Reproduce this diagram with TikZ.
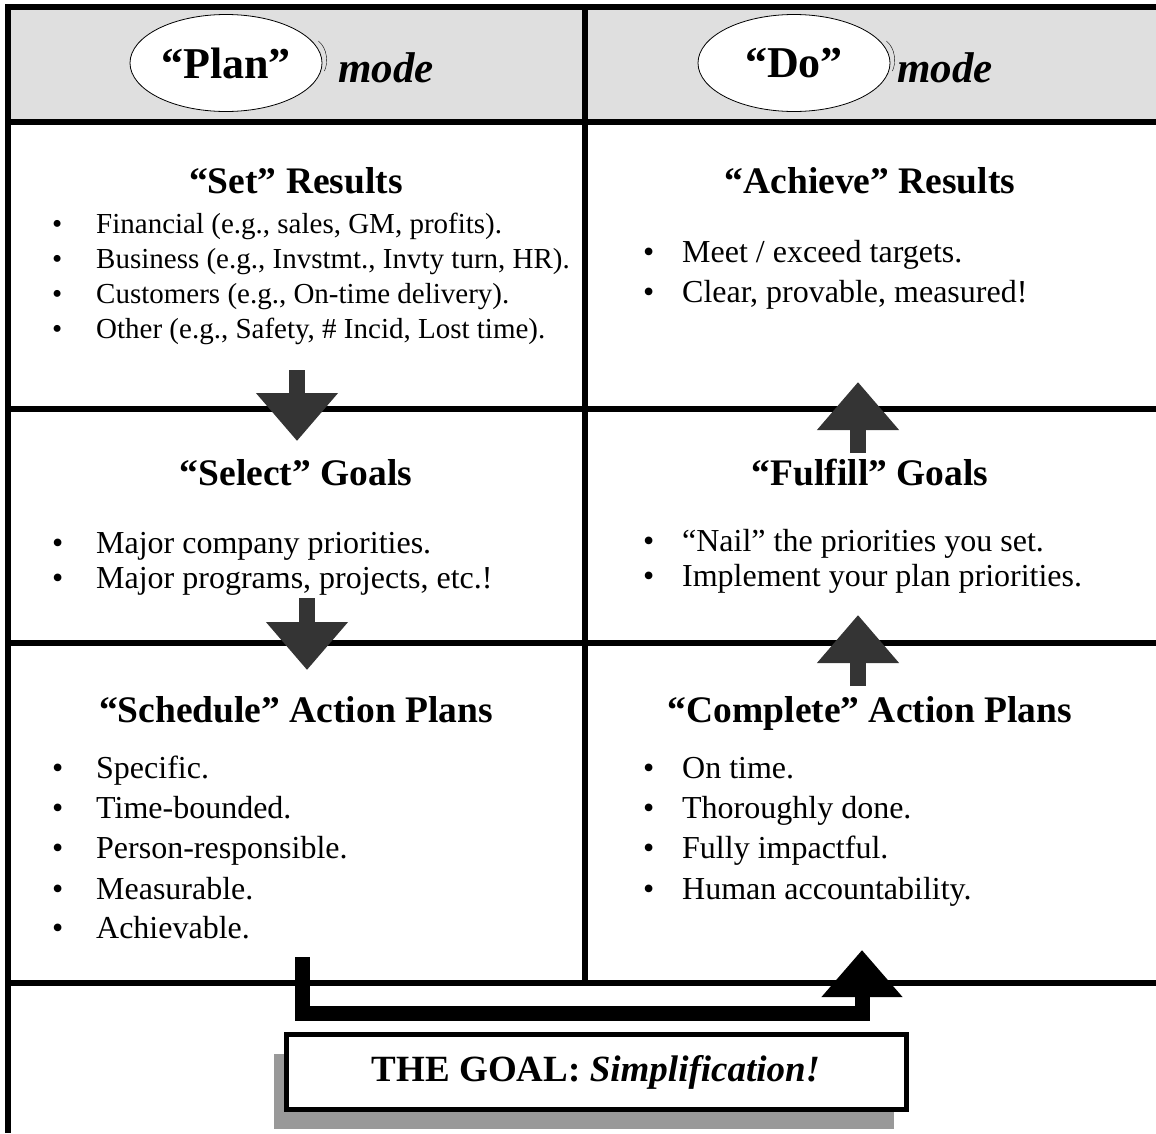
\documentclass[tikz,border=0pt]{standalone}
\usepackage{fontspec}
\setmainfont{Liberation Serif}
\usetikzlibrary{shapes.geometric,arrows.meta,shadows}

\begin{document}
\begin{tikzpicture}[x=1pt,y=-1pt,
	frame/.style={line width=6pt, miter limit=2},
	title/.style={anchor=base, inner sep=0pt, font=\bfseries\fontsize{37.5}{42}\selectfont},
	item/.style={anchor=base west, inner sep=0pt, font=\fontsize{32}{36}\selectfont},
	smallitem/.style={item, font=\fontsize{29}{33}\selectfont},
	modeoval/.style={ellipse, draw, thick, fill=white, minimum width=192pt, minimum height=97pt,
		inner sep=0pt, font=\bfseries\fontsize{44}{48}\selectfont},
	modetext/.style={anchor=west, inner sep=0pt, font=\bfseries\itshape\fontsize{43}{47}\selectfont},
	flowarrow/.style={draw=arrowgray, line width=16pt, -{Triangle[length=48pt,width=79pt]}},
	looparrow/.style={draw, line width=15pt, miter limit=4, -{Triangle[length=47pt,width=78pt]}},
	goalbox/.style={draw, line width=5pt, fill=white, minimum width=620pt, minimum height=75pt,
		font=\fontsize{37}{41}\selectfont,
		drop shadow={shadow xshift=-12pt, shadow yshift=-19pt, fill=shadowgray, opacity=1}}
]

	% ---- Colors ----
	\definecolor{headergray}{RGB}{223,223,223}
	\definecolor{arrowgray}{RGB}{52,52,52}
	\definecolor{shadowgray}{RGB}{153,153,153}

	\useasboundingbox (0,0) rectangle (1156,1133);

	% ---- Header band ----
	\fill[headergray] (8,7) rectangle (1156,122);

	% ---- Grid lines ----
	\draw[frame] (1156,7) -- (8,7) -- (8,1133);
	\foreach \y in {122,409,643,983}
	\draw[frame] (8,\y) -- (1156,\y);
	\draw[line width=5.5pt] (585,7) -- (585,983);

	% ---- Mode ovals ----
	\node[modeoval] (plan) at (226,63) {“Plan”};
	\node[modeoval] (do) at (794,63) {“Do”};
	\foreach \m in {plan,do}
	\draw[thin] ([shift={(-4,-22)}]\m.east) .. controls ([shift={(5,-15)}]\m.east)
		and ([shift={(6,0)}]\m.east) .. ([shift={(2,8)}]\m.east);
	\node[modetext] (planmode) at (338,68) {mode};
	\node[modetext] (domode) at (897,68) {mode};

	% ---- Titles ----
	\node[title] (setres) at (296,193) {“Set” Results};
	\node[title] (achieveres) at (870,193) {“Achieve” Results};
	\node[title] (selectgoals) at (296,485) {“Select” Goals};
	\node[title] (fulfillgoals) at (870,485) {“Fulfill” Goals};
	\node[title] (scheduleplans) at (296,722) {“Schedule” Action Plans};
	\node[title] (completeplans) at (870,722) {“Complete” Action Plans};

	% ---- Plan side lists ----
	\foreach \y/\txt in {
		233/{Financial (e.g., sales, GM, profits).},
		268/{Business (e.g., Invstmt., Invty turn, HR).},
		303/{Customers (e.g., On-time delivery).},
		338/{Other (e.g., Safety, \# Incid, Lost time).}
	}
	\node[smallitem] (set\y) at (52,\y) {\makebox[44pt][l]{\textbullet}\txt};

	\foreach \y/\txt in {
		553/{Major company priorities.},
		588/{Major programs, projects, etc.!}
	}
	\node[item] (select\y) at (52,\y) {\makebox[44pt][l]{\textbullet}\txt};

	\foreach \y/\txt in {
		778/{Specific.},
		818/{Time-bounded.},
		858/{Person-responsible.},
		899/{Measurable.},
		938/{Achievable.}
	}
	\node[item] (schedule\y) at (52,\y) {\makebox[44pt][l]{\textbullet}\txt};

	% ---- Do side lists ----
	\foreach \y/\txt in {
		262/{Meet / exceed targets.},
		302/{Clear, provable, measured!}
	}
	\node[item] (achieve\y) at (643,\y) {\makebox[39pt][l]{\textbullet}\txt};

	\foreach \y/\txt in {
		551/{“Nail” the priorities you set.},
		586/{Implement your plan priorities.}
	}
	\node[item] (fulfill\y) at (643,\y) {\makebox[39pt][l]{\textbullet}\txt};

	\foreach \y/\txt in {
		778/{On time.},
		818/{Thoroughly done.},
		858/{Fully impactful.},
		899/{Human accountability.}
	}
	\node[item] (complete\y) at (643,\y) {\makebox[39pt][l]{\textbullet}\txt};

	% ---- Block arrows between stages ----
	\foreach \n/\x/\ya/\yb in {
		setsel/297/370/441,
		selsch/307/598/670,
		comful/858/686/615,
		fulach/858/453/382
	}
	{
		\coordinate (\n-from) at (\x,\ya);
		\coordinate (\n-to) at (\x,\yb);
		\draw[flowarrow] (\n-from) -- (\n-to);
	}

	% ---- Hand-over from plan to do ----
	\coordinate (handfrom) at (302,957);
	\coordinate (handto) at (862,950);
	\draw[looparrow] (handfrom) -- (302,1013) -- (862,1013) -- (handto);

	% ---- Goal box ----
	\node[goalbox] (goal) at (596,1072) {\textbf{THE GOAL:} \textbf{\textit{Simplification!}}};

\end{tikzpicture}
\end{document}
